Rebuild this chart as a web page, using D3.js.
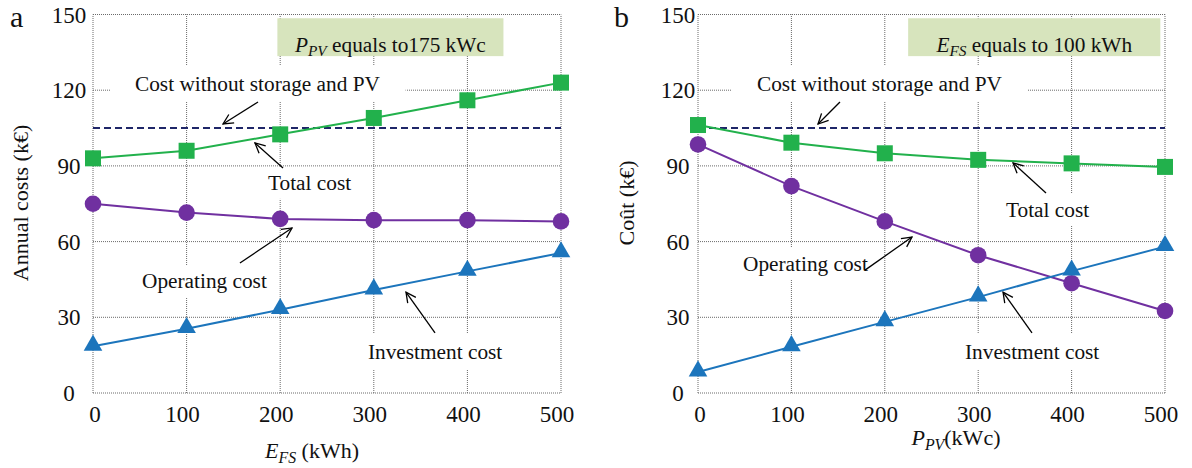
<!DOCTYPE html>
<html><head><meta charset="utf-8">
<script src="https://cdn.jsdelivr.net/npm/d3@7"></script>
<style>
body{margin:0;background:#fff;}
svg{display:block;font-family:"Liberation Serif","Times New Roman",serif;}
</style></head>
<body>
<svg id="chart" width="1192" height="468"></svg>
<script>
// ---------- data ----------
const xTicks = [0, 100, 200, 300, 400, 500];
const yTicks = [0, 30, 60, 90, 120, 150];

// panel a : x = E_FS (kWh)
const aX = [0, 100, 200, 300, 400, 500];
const aTotal = [93, 96, 102.5, 109, 116, 123];
const aOperating = [75, 71.5, 69, 68.5, 68.5, 68];
const aInvestment = [18.5, 25.5, 33, 40.8, 48.2, 55.5];
const aNoStorage = 105;

// panel b : x = P_PV (kWc)
const bX = [0, 100, 200, 300, 400, 500];
const bTotal = [106.2, 99.2, 95, 92.4, 91, 89.6];
const bOperating = [98.5, 82, 68, 54.6, 43.5, 32.5];
const bInvestment = [8.3, 18.3, 28.2, 38, 48.3, 58];
const bNoStorage = 105;

const seriesNames = ["Total cost", "Operating cost", "Investment cost"];
const noStorageLabel = "Cost without storage and PV";

// ---------- drawing ----------
const svg = d3.select("#chart");
const colors = {total: "#22b14c", operating: "#7030a0", investment: "#1c75bc", dash: "#1f2668"};

const defs = svg.append("defs");
defs.append("marker").attr("id", "arr").attr("viewBox", "0 0 12 12")
  .attr("refX", 11).attr("refY", 6).attr("markerWidth", 12).attr("markerHeight", 12)
  .attr("markerUnits", "userSpaceOnUse").attr("orient", "auto")
  .append("path").attr("d", "M1,1 L11,6 L1,11").attr("fill", "none")
  .attr("stroke", "#000").attr("stroke-width", 1.3);

function subLabel(sel, main, sub, rest, size) {
  sel.append("tspan").attr("font-style", "italic").text(main);
  sel.append("tspan").attr("font-style", "italic").attr("font-size", size * 0.72)
    .attr("dy", size * 0.22).text(sub);
  sel.append("tspan").attr("dy", -size * 0.22).text(rest);
}

function panel(cfg) {
  const x = d3.scaleLinear().domain([0, 500]).range([cfg.left, cfg.right]);
  const y = d3.scaleLinear().domain([0, 150]).range([393, 14.5]);
  const g = svg.append("g");

  // grid
  const grid = g.append("g").attr("stroke", "#6a6a6a").attr("stroke-width", 1)
    .attr("stroke-dasharray", "1,1").attr("fill", "none");
  grid.selectAll("line.v").data(xTicks).join("line").attr("class", "v")
    .attr("x1", d => x(d)).attr("x2", d => x(d)).attr("y1", y(0)).attr("y2", y(150));
  grid.selectAll("line.h").data(yTicks).join("line").attr("class", "h")
    .attr("x1", x(0)).attr("x2", x(500)).attr("y1", d => y(d)).attr("y2", d => y(d));

  // tick labels
  g.append("g").selectAll("text").data(xTicks).join("text")
    .attr("x", d => x(d) - (d === 0 ? -2 : 4)).attr("y", 421.5).attr("text-anchor", "middle")
    .attr("font-size", 23).attr("fill", "#111").text(d => d);
  g.append("g").selectAll("text").data(yTicks).join("text")
    .attr("x", cfg.left - cfg.yLabOff).attr("y", d => y(d) + 8).attr("text-anchor", "middle")
    .attr("font-size", 23).attr("fill", "#111").text(d => d);

  // annotations (white backgrounds first)
  const annG = g.append("g");
  cfg.annotations.forEach(a => {
    const t = annG.append("text").attr("x", x(a.tx)).attr("y", y(a.ty))
      .attr("font-size", 21.3).attr("fill", "#111").text(a.text);
    const bb = t.node().getBBox();
    annG.insert("rect", () => t.node()).attr("x", bb.x - a.px).attr("y", bb.y - a.py)
      .attr("width", bb.width + 2 * a.px).attr("height", bb.height + 2 * a.py).attr("fill", "#fff");
  });
  cfg.annotations.forEach(a => {
    annG.append("line").attr("x1", x(a.ax1)).attr("y1", y(a.ay1)).attr("x2", x(a.ax2)).attr("y2", y(a.ay2))
      .attr("stroke", "#000").attr("stroke-width", 1.3).attr("marker-end", "url(#arr)");
  });

  // green parameter box
  const boxRect = g.append("rect").attr("x", x(cfg.box[0])).attr("y", y(148.5))
    .attr("width", x(cfg.box[1]) - x(cfg.box[0])).attr("height", y(133.5) - y(148.5))
    .attr("fill", "#d7e4bd");
  const bt = g.append("text").attr("x", (x(cfg.box[0]) + x(cfg.box[1])) / 2).attr("y", 51.5)
    .attr("text-anchor", "middle").attr("font-size", 21.3).attr("fill", "#111");
  subLabel(bt, cfg.boxMain, cfg.boxSub, cfg.boxRest, 21.3);

  // dashed reference line
  g.append("line").attr("x1", x(0)).attr("x2", x(500)).attr("y1", y(cfg.noStorage)).attr("y2", y(cfg.noStorage))
    .attr("stroke", colors.dash).attr("stroke-width", 2).attr("stroke-dasharray", "7,4");

  const line = d3.line().x(d => x(d[0])).y(d => y(d[1]));
  const mk = (vals) => cfg.xs.map((v, i) => [v, vals[i]]);

  const tot = mk(cfg.total), op = mk(cfg.operating), inv = mk(cfg.investment);
  g.append("path").datum(tot).attr("d", line).attr("fill", "none").attr("stroke", colors.total).attr("stroke-width", 2);
  g.append("path").datum(op).attr("d", line).attr("fill", "none").attr("stroke", colors.operating).attr("stroke-width", 2);
  g.append("path").datum(inv).attr("d", line).attr("fill", "none").attr("stroke", colors.investment).attr("stroke-width", 2);

  g.selectAll("rect.sq").data(tot).join("rect").attr("class", "sq")
    .attr("x", d => x(d[0]) - 8).attr("y", d => y(d[1]) - 8).attr("width", 16).attr("height", 16)
    .attr("fill", colors.total);
  g.selectAll("circle.op").data(op).join("circle").attr("class", "op")
    .attr("cx", d => x(d[0])).attr("cy", d => y(d[1])).attr("r", 8.3).attr("fill", colors.operating);
  const tri = d3.symbol().type(d3.symbolTriangle).size(150);
  g.selectAll("path.tri").data(inv).join("path").attr("class", "tri")
    .attr("transform", d => `translate(${x(d[0])},${y(d[1]) - 1})`).attr("d", tri).attr("fill", colors.investment);

  // axis titles
  const xt = g.append("text").attr("x", cfg.xTitleX).attr("y", cfg.xTitleY).attr("text-anchor", "middle")
    .attr("font-size", 22).attr("fill", "#111");
  subLabel(xt, cfg.xMain, cfg.xSub, cfg.xRest, 22);
  g.append("text").attr("transform", `translate(${cfg.yTitleX},203) rotate(-90)`).attr("text-anchor", "middle")
    .attr("font-size", 22).attr("fill", "#111").text(cfg.yTitle);

  // panel letter
  g.append("text").attr("x", cfg.letterX).attr("y", 27).attr("font-size", 30).attr("fill", "#111").text(cfg.letter);
}

panel({
  left: 93, right: 561, yLabOff: 24, xs: aX,
  total: aTotal, operating: aOperating, investment: aInvestment, noStorage: aNoStorage,
  box: [197, 438.5], boxMain: "P", boxSub: "PV", boxRest: " equals to175 kWc",
  xMain: "E", xSub: "FS", xRest: " (kWh)", xTitleX: 312, xTitleY: 458,
  yTitle: "Annual costs (k€)", yTitleX: 28, letter: "a", letterX: 10,
  annotations: [
    {text: noStorageLabel, tx: 44.9, ty: 119.8, px: 25, py: 6, ax1: 176.3, ay1: 115.3, ax2: 138.9, ay2: 106.6},
    {text: seriesNames[0], tx: 187, ty: 80.5, px: 5, py: 4, ax1: 203, ay1: 89.2, ax2: 173, ay2: 99.1},
    {text: seriesNames[1], tx: 52.4, ty: 41.6, px: 5, py: 4, ax1: 157, ay1: 51.5, ax2: 212.6, ay2: 65.4},
    {text: seriesNames[2], tx: 293.8, ty: 13.5, px: 4, py: 6, ax1: 365.4, ay1: 23.8, ax2: 334.4, ay2: 40}
  ]
});

panel({
  left: 698, right: 1165, yLabOff: 20, xs: bX,
  total: bTotal, operating: bOperating, investment: bInvestment, noStorage: bNoStorage,
  box: [225, 495], boxMain: "E", boxSub: "FS", boxRest: " equals to 100 kWh",
  xMain: "P", xSub: "PV", xRest: "(kWc)", xTitleX: 956, xTitleY: 445,
  yTitle: "Coût (k€)", yTitleX: 634, letter: "b", letterX: 614,
  annotations: [
    {text: noStorageLabel, tx: 63.2, ty: 119.8, px: 25, py: 6, ax1: 152, ay1: 115.3, ax2: 128.5, ay2: 106.6},
    {text: seriesNames[0], tx: 329.8, ty: 69.8, px: 5, py: 4, ax1: 372.6, ay1: 79.3, ax2: 337.3, ay2: 91.2},
    {text: seriesNames[1], tx: 48.2, ty: 48.4, px: 5, py: 4, ax1: 178.8, ay1: 48.7, ax2: 229.1, ay2: 61.8},
    {text: seriesNames[2], tx: 285.9, ty: 13.5, px: 4, py: 6, ax1: 357.6, ay1: 23.8, ax2: 326.6, ay2: 40}
  ]
});
</script>
</body></html>
